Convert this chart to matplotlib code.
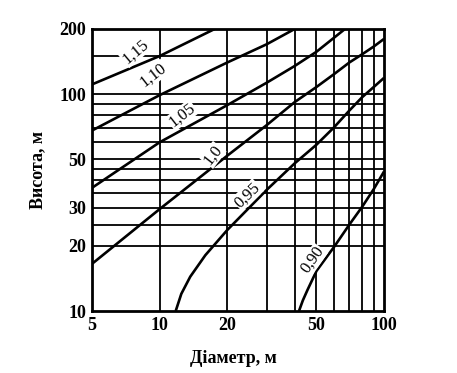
import matplotlib
matplotlib.use("Agg")
import matplotlib.pyplot as plt
from matplotlib.ticker import FixedLocator, FixedFormatter, NullFormatter

# ── axis ticks and grid (log-log nomogram) ─────────────────────────────
x_ticks = [5, 10, 20, 50, 100]
x_tick_labels = ["5", "10", "20", "50", "100"]
y_ticks = [10, 20, 30, 50, 100, 200]
y_tick_labels = ["10", "20", "30", "50", "100", "200"]
x_grid = [10, 20, 30, 40, 50, 60, 70, 80, 90]
y_grid = [20, 25, 30, 35, 40, 45, 50, 60, 70, 80, 90, 100, 150]

# ── iso-lines: diameter (m) vs height (m) ──────────────────────────────
d_115 = [5, 10, 17.6]
h_115 = [111, 150, 200]
d_110 = [5, 10, 20, 30, 40]
h_110 = [68, 99, 140, 170, 200]
d_105 = [5, 10, 20, 30, 40, 50, 67]
h_105 = [37, 60, 89, 113, 135, 157, 200]
d_100 = [5, 10, 20, 30, 40, 50, 60, 70, 80, 90, 100]
h_100 = [16.5, 29.5, 52, 72, 92, 108, 124, 140, 153, 166, 180]
d_095 = [11.8, 12.5, 13.7, 16, 20, 30, 40, 50, 60, 70, 80, 90, 100]
h_095 = [10, 12, 14.4, 18.1, 23.6, 36.2, 48, 58.5, 70.5, 84, 97, 108, 119]
d_090 = [41.8, 43.5, 45.6, 50, 60, 70, 80, 90, 100]
h_090 = [10, 11.2, 12.5, 15.3, 19.8, 25, 30.3, 36.5, 44]

labels = ["1,15", "1,10", "1,05", "1,0", "0,95", "0,90"]
label_d = [7.8, 9.4, 12.6, 17.3, 24.6, 48]
label_h = [157, 123, 80, 52.5, 34.3, 17.2]
label_rot = [40, 38, 38, 52, 44, 55]

plt.rcParams["font.family"] = ["Liberation Serif", "DejaVu Serif"]

fig = plt.figure(figsize=(4.57, 3.73), dpi=100)
ax = fig.add_axes([0.2013, 0.1662, 0.6390, 0.7561])
ax.set_xscale("log")
ax.set_yscale("log")
ax.set_xlim(5, 100)
ax.set_ylim(10, 200)

for v in x_grid:
    ax.axvline(v, color="black", linewidth=1.3, zorder=1)
for v in y_grid:
    ax.axhline(v, color="black", linewidth=1.3, zorder=1)

for d, h in [(d_115, h_115), (d_110, h_110), (d_105, h_105),
             (d_100, h_100), (d_095, h_095), (d_090, h_090)]:
    ax.plot(d, h, color="black", linewidth=1.9, zorder=3,
            solid_capstyle="butt")

for txt, xd, yd, rot in zip(labels, label_d, label_h, label_rot):
    ax.text(xd, yd, txt, rotation=rot, fontsize=12, ha="center",
            va="center", rotation_mode="anchor", zorder=4,
            bbox=dict(facecolor="white", edgecolor="none", pad=0.5))

ax.xaxis.set_major_locator(FixedLocator(x_ticks))
ax.xaxis.set_major_formatter(FixedFormatter(x_tick_labels))
ax.xaxis.set_minor_formatter(NullFormatter())
ax.yaxis.set_major_locator(FixedLocator(y_ticks))
ax.yaxis.set_major_formatter(FixedFormatter(y_tick_labels))
ax.yaxis.set_minor_formatter(NullFormatter())
ax.tick_params(which="both", length=0, labelsize=13, pad=4)
for lbl in ax.get_xticklabels() + ax.get_yticklabels():
    lbl.set_fontweight("bold")

for s in ax.spines.values():
    s.set_linewidth(2.0)
    s.set_zorder(5)

fig.text(0.510, 0.040, "Діаметр, м", fontsize=13, fontweight="bold",
         ha="center", va="center")
fig.text(0.083, 0.545, "Висота, м", fontsize=13, fontweight="bold",
         ha="center", va="center", rotation=90)

fig.savefig("out.png", dpi=100)
